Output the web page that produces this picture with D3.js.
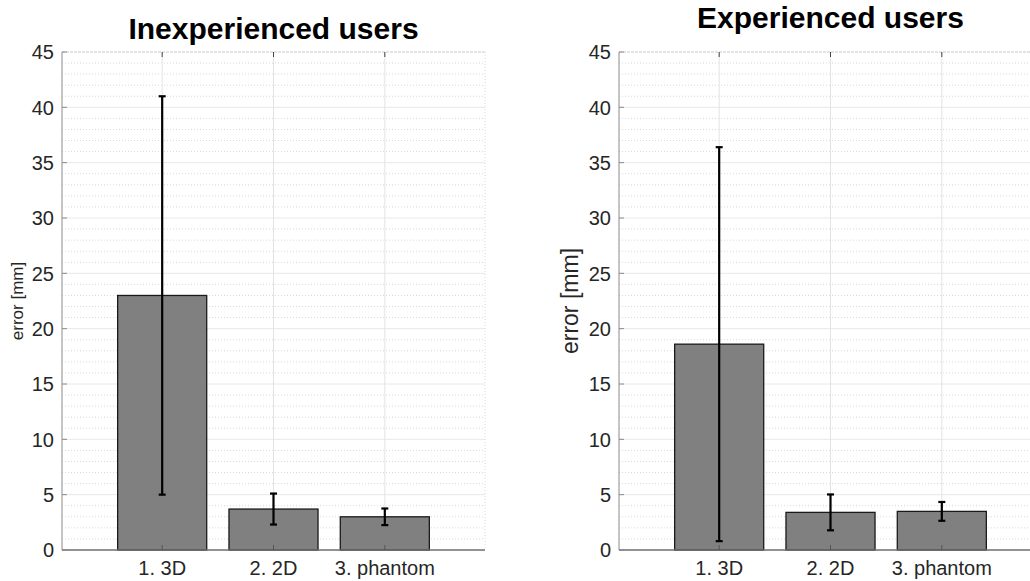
<!DOCTYPE html>
<html lang="en">
  <head>
    <meta charset="utf-8">
    <title>Error by method</title>
    <style>
      body { margin: 0; background: #fff; }
      svg { display: block; font-family: "Liberation Sans", Arial, sans-serif; }
    </style>
    <script src="https://d3js.org/d3.v7.min.js"></script>
  </head>
  <body>
    <script>
    // values
    const categories = ["1. 3D", "2. 2D", "3. phantom"];
    const inexpMean = [23.0, 3.7, 3.0];
    const inexpErr = [18.0, 1.4, 0.75];
    const expMean = [18.6, 3.4, 3.49];
    const expErr = [17.8, 1.62, 0.85];
    const yTicks = [0, 5, 10, 15, 20, 25, 30, 35, 40, 45];

    const W = 1030, H = 581;

    const svg = d3.select("body")
      .append("svg")
      .attr("width", W)
      .attr("height", H);

    const y = d3.scaleLinear().domain([0, 45]).range([550, 52]);

    const panels = [
      { title: "Inexperienced users", mean: inexpMean, err: inexpErr, x0: 62, titleY: 39, labX: 23, labSize: 17 },
      { title: "Experienced users", mean: expMean, err: expErr, x0: 619, titleY: 28, labX: 578, labSize: 23 }
    ];

    panels.forEach(p => {
      const x = d3.scaleLinear().domain([0.1, 3.9]).range([p.x0, p.x0 + 423]);
      const g = svg.append("g");
      const xEnd = x(3.9);

      // minor horizontal grid
      g.selectAll("line.minor")
        .data(d3.range(0, 46).filter(v => v % 5 != 0))
        .join("line")
        .attr("class", "minor")
        .attr("x1", p.x0).attr("x2", xEnd)
        .attr("y1", d => y(d)).attr("y2", d => y(d))
        .attr("stroke", "#d9d9d9")
        .attr("stroke-dasharray", "1,2");

      // major horizontal grid
      g.selectAll("line.major")
        .data(yTicks.slice(1))
        .join("line")
        .attr("class", "major")
        .attr("x1", p.x0).attr("x2", xEnd)
        .attr("y1", d => y(d)).attr("y2", d => y(d))
        .attr("stroke", d => d == 45 ? "#c8c8c8" : "#e8e8e8")
        .attr("stroke-dasharray", d => d == 45 ? "3,1" : null);

      // vertical grid at categories
      g.selectAll("line.vgrid")
        .data(categories)
        .join("line")
        .attr("class", "vgrid")
        .attr("x1", (d, i) => x(i + 1)).attr("x2", (d, i) => x(i + 1))
        .attr("y1", y(45)).attr("y2", y(0))
        .attr("stroke", "#e3e3e3");

      g.append("line")
        .attr("x1", xEnd).attr("x2", xEnd)
        .attr("y1", y(45)).attr("y2", y(0))
        .attr("stroke", "#d9d9d9")
        .attr("stroke-dasharray", "1,2");

      // bars
      g.selectAll("rect.bar")
        .data(p.mean)
        .join("rect")
        .attr("class", "bar")
        .attr("x", (d, i) => x(i + 1 - 0.4))
        .attr("width", x(0.9) - x(0.1))
        .attr("y", d => y(d))
        .attr("height", d => y(0) - y(d))
        .attr("fill", "#808080")
        .attr("stroke", "#1a1a1a")
        .attr("stroke-width", 1.3);

      // error bars
      const eb = g.selectAll("g.eb")
        .data(p.mean.map((m, i) => ({ m: m, e: p.err[i], i: i })))
        .join("g")
        .attr("class", "eb")
        .attr("stroke", "#000")
        .attr("stroke-width", 2.2);

      eb.append("line")
        .attr("x1", d => x(d.i + 1)).attr("x2", d => x(d.i + 1))
        .attr("y1", d => y(d.m - d.e)).attr("y2", d => y(d.m + d.e));
      eb.append("line")
        .attr("x1", d => x(d.i + 1) - 3.5).attr("x2", d => x(d.i + 1) + 3.5)
        .attr("y1", d => y(d.m + d.e)).attr("y2", d => y(d.m + d.e));
      eb.append("line")
        .attr("x1", d => x(d.i + 1) - 3.5).attr("x2", d => x(d.i + 1) + 3.5)
        .attr("y1", d => y(d.m - d.e)).attr("y2", d => y(d.m - d.e));

      // axes
      g.append("line")
        .attr("x1", p.x0).attr("x2", p.x0)
        .attr("y1", y(45)).attr("y2", y(0))
        .attr("stroke", "#8a8a8a");
      g.append("line")
        .attr("x1", p.x0).attr("x2", xEnd)
        .attr("y1", y(0)).attr("y2", y(0))
        .attr("stroke", "#6e6e6e")
        .attr("stroke-width", 1.3);

      g.selectAll("line.ytick")
        .data(yTicks)
        .join("line")
        .attr("class", "ytick")
        .attr("x1", p.x0).attr("x2", p.x0 + 5)
        .attr("y1", d => y(d)).attr("y2", d => y(d))
        .attr("stroke", "#8a8a8a");

      g.selectAll("line.xtick")
        .data(categories)
        .join("line")
        .attr("class", "xtick")
        .attr("x1", (d, i) => x(i + 1)).attr("x2", (d, i) => x(i + 1))
        .attr("y1", y(0)).attr("y2", y(0) - 5)
        .attr("stroke", "#555");

      g.selectAll("line.ttick")
        .data(categories)
        .join("line")
        .attr("class", "ttick")
        .attr("x1", (d, i) => x(i + 1)).attr("x2", (d, i) => x(i + 1))
        .attr("y1", y(45)).attr("y2", y(45) + 5)
        .attr("stroke", "#444");

      g.selectAll("text.ylab")
        .data(yTicks)
        .join("text")
        .attr("class", "ylab")
        .attr("x", p.x0 - 8)
        .attr("y", d => y(d))
        .attr("dy", "0.36em")
        .attr("text-anchor", "end")
        .attr("font-size", 20)
        .attr("fill", "#262626")
        .text(d => d);

      g.selectAll("text.xlab")
        .data(categories)
        .join("text")
        .attr("class", "xlab")
        .attr("x", (d, i) => x(i + 1))
        .attr("y", 575)
        .attr("text-anchor", "middle")
        .attr("font-size", 20)
        .attr("fill", "#262626")
        .text(d => d);

      g.append("text")
        .attr("x", (p.x0 + xEnd) / 2)
        .attr("y", p.titleY)
        .attr("text-anchor", "middle")
        .attr("font-size", 30)
        .attr("font-weight", "bold")
        .attr("fill", "#000")
        .text(p.title);

      g.append("text")
        .attr("transform", `translate(${p.labX},${(y(0) + y(45)) / 2}) rotate(-90)`)
        .attr("text-anchor", "middle")
        .attr("font-size", p.labSize)
        .attr("fill", "#262626")
        .text("error [mm]");
    });
    </script>
  </body>
</html>
